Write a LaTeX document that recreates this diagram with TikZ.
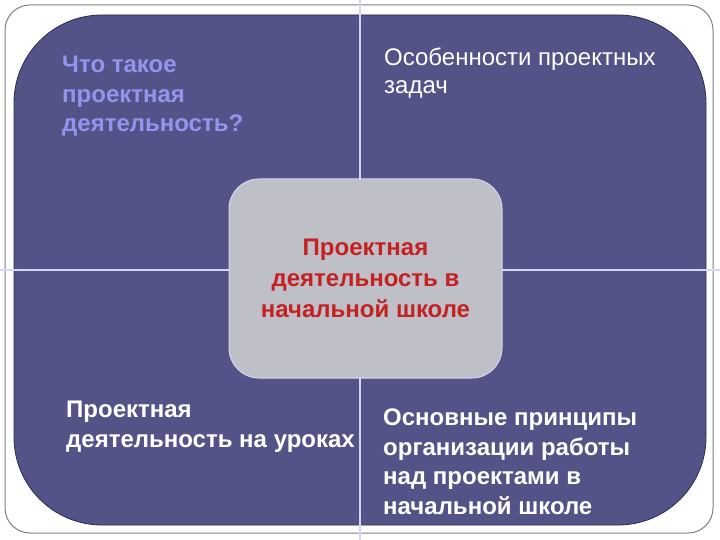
\documentclass[tikz,border=0pt]{standalone}
\usepackage{fontspec}
\setmainfont{Liberation Sans}
\definecolor{quadblue}{HTML}{535388}
\definecolor{quadedge}{HTML}{2C2C4E}
\definecolor{divline}{HTML}{D6D6F2}
\definecolor{hubgray}{HTML}{BFBFC7}
\definecolor{hubred}{HTML}{C42222}
\definecolor{asklav}{HTML}{9494EE}
\begin{document}
\begin{tikzpicture}[x=1pt,y=-1pt,
  quadtext/.style={inner sep=0pt,anchor=north west,align=left,text=white,
    font=\bfseries\fontsize{24}{29.5}\selectfont}]
  \useasboundingbox (0,0) rectangle (720,540);
  \fill [white] (0,0) rectangle (720,540);
  \draw [gray,line width=1pt,rounded corners=25pt] (5,5) rectangle (713,533);
  \filldraw [fill=quadblue,draw=quadedge,line width=0.8pt,rounded corners=88pt] (14,15) rectangle (706,525);

  \coordinate (top) at (360,0);
  \coordinate (bottom) at (360,540);
  \coordinate (left) at (0,270);
  \coordinate (right) at (720,270);
  \draw [divline,line width=2.5pt] (top) -- (bottom);
  \draw [divline,line width=2.5pt] (left) -- (right);

  \node [draw=divline,line width=1pt,fill=hubgray,rounded corners=30pt,minimum width=273pt,minimum height=199pt,
    align=center,text=hubred,font=\bfseries\fontsize{24}{31}\selectfont] (hub) at (365.5,278.5)
    {Проектная\\деятельность в\\начальной школе};

  \node [quadtext,text=asklav] (what) at (62,56) {Что такое\\проектная\\деятельность?};
  \node [quadtext,font=\fontsize{24}{28}\selectfont] (tasks) at (384,48) {Особенности проектных\\задач};
  \node [quadtext] (lessons) at (66,401) {Проектная\\деятельность на уроках};
  \node [quadtext] (rules) at (383,409) {Основные принципы\\организации работы\\над проектами в\\начальной школе};
\end{tikzpicture}
\end{document}
